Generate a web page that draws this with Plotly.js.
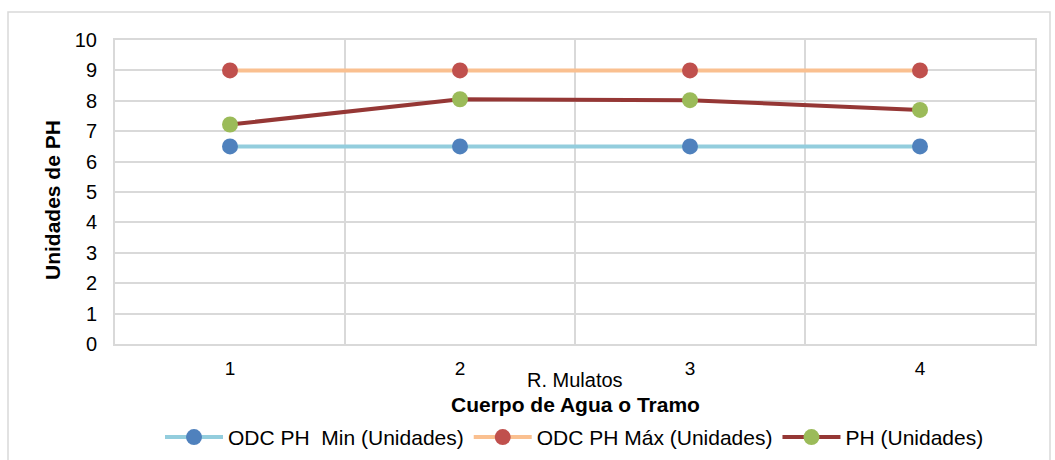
<!DOCTYPE html>
<html>
<head>
<meta charset="utf-8">
<script src="https://cdn.plot.ly/plotly-3.0.1.min.js"></script>
<style>html,body{margin:0;padding:0;background:#fff;} #chart{width:1055px;height:460px;}</style>
</head>
<body>
<div id="chart"></div>
<script>
var categories = [1, 2, 3, 4];
var categoryLabels = ['1', '2', '3', '4'];
var groupLabel = 'R. Mulatos';
var odcMin = [6.5, 6.5, 6.5, 6.5];
var odcMax = [9, 9, 9, 9];
var ph = [7.22, 8.05, 8.02, 7.7];
var seriesNames = ['ODC PH\u00a0\u00a0Min (Unidades)', 'ODC PH Máx (Unidades)', 'PH (Unidades)'];
var yTicks = [0,1,2,3,4,5,6,7,8,9,10];

var FONT = 'Liberation Sans, Arial, sans-serif';

function tr(y, name, lineColor, markerColor) {
  return {
    x: categories, y: y, name: name, type: 'scatter', mode: 'lines+markers',
    line: {color: lineColor, width: 4},
    marker: {color: markerColor, size: 16, line: {width: 0}},
    hoverinfo: 'x+y'
  };
}

var data = [
  tr(odcMin, seriesNames[0], '#93CDDD', '#4F81BD'),
  tr(odcMax, seriesNames[1], '#FAC090', '#C0504D'),
  tr(ph, seriesNames[2], '#953735', '#9BBB59')
];

var layout = {
  width: 1055, height: 460,
  margin: {l: 115, r: 20, t: 40, b: 116, autoexpand: false},
  paper_bgcolor: '#fff', plot_bgcolor: '#fff',
  font: {family: FONT, size: 20, color: '#000'},
  showlegend: true,
  legend: {orientation: 'h', xref: 'container', x: 160/1055, xanchor: 'left', y: -0.24, yanchor: 'top',
           font: {size: 21, color: '#000'}, itemwidth: 58, tracegroupgap: 0},
  xaxis: {
    range: [0.5, 4.5], tickvals: categories, ticktext: categoryLabels,
    showgrid: false, zeroline: false,
    ticks: 'outside', ticklen: 6, tickcolor: 'rgba(0,0,0,0)',
    tickfont: {size: 19, color: '#000'},
    showline: true, linecolor: '#D9D9D9', linewidth: 2, mirror: true,
    minor: {tick0: 0.5, dtick: 1, showgrid: true, gridcolor: '#D9D9D9', gridwidth: 2, ticks: ''},
    fixedrange: true
  },
  yaxis: {
    range: [0, 10], tickvals: yTicks,
    showgrid: true, gridcolor: '#D9D9D9', gridwidth: 2,
    zeroline: false,
    showline: true, linecolor: '#D9D9D9', linewidth: 2, mirror: true,
    ticks: 'outside', ticklen: 12, tickcolor: 'rgba(0,0,0,0)',
    tickfont: {size: 20, color: '#000'},
    fixedrange: true
  },
  annotations: [
    {text: groupLabel, xref: 'paper', yref: 'paper', x: 0.5, y: (344-380)/304,
     xanchor: 'center', yanchor: 'middle', showarrow: false, font: {size: 20, color: '#000'}},
    {text: '<b>Cuerpo de Agua o Tramo</b>', xref: 'paper', yref: 'paper', x: 0.5, y: (344-404)/304,
     xanchor: 'center', yanchor: 'middle', showarrow: false, font: {size: 21, color: '#000'}},
    {text: '<b>Unidades de PH</b>', xref: 'paper', yref: 'paper', x: (52-115)/920, y: (344-200)/304,
     xanchor: 'center', yanchor: 'middle', textangle: -90, showarrow: false, font: {size: 21, color: '#000'}}
  ],
  shapes: [
    {type: 'rect', xref: 'paper', yref: 'paper', x0: (8-115)/920, x1: (1050-115)/920,
     y0: (344-470)/304, y1: (344-12)/304, line: {color: '#D9D9D9', width: 1.5}, fillcolor: 'rgba(0,0,0,0)', layer: 'below'}
  ]
};

Plotly.newPlot('chart', data, layout, {displayModeBar: false, staticPlot: true});
</script>
</body>
</html>
